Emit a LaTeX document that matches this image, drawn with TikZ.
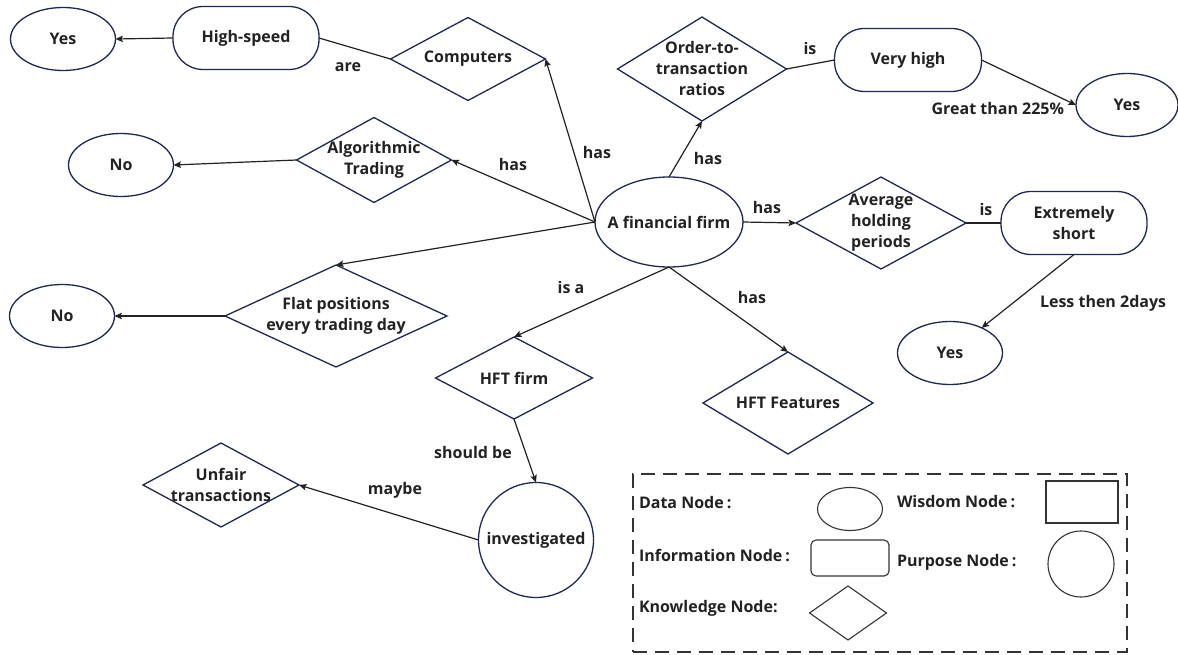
\documentclass[tikz,border=0pt]{standalone}
\usepackage{fontspec}
\setmainfont{Open Sans}
\usetikzlibrary{shapes.geometric,arrows.meta}
\definecolor{navy}{HTML}{1F2855}
\definecolor{ink}{HTML}{222222}
\definecolor{legc}{HTML}{333333}
\begin{document}
\begin{tikzpicture}[x=1pt,y=-1pt,
  base/.style={draw=navy, line width=1.3pt, inner sep=0pt, outer sep=0pt},
  txt/.style={font=\fontsize{16}{21}\selectfont\bfseries, text=ink, align=center, inner sep=0pt, outer sep=0pt},
  dnode/.style={base, ellipse},
  inode/.style={base, rectangle, rounded corners=30pt},
  knode/.style={base, diamond},
  pnode/.style={base, circle},
  arr/.style={draw=ink, line width=1.2pt, -{Stealth[length=7.5pt,width=6.5pt,inset=1.5pt]}},
  ln/.style={draw=ink, line width=1.2pt},
  legshape/.style={draw=legc, line width=1.1pt, inner sep=0pt, outer sep=0pt},
  legtxt/.style={txt, anchor=west},
]
\useasboundingbox (0,0) rectangle (1178,655);

% nodes
\node[dnode, minimum width=105pt, minimum height=63pt, label={[txt]center:Yes}] (yes1) at (63,39) {};
\node[inode, minimum width=146pt, minimum height=63pt, label={[txt]center:High-speed}] (hs) at (246,38) {};
\node[knode, minimum width=155pt, minimum height=83pt, label={[txt]center:Computers}] (comp) at (468,59) {};
\node[dnode, minimum width=105pt, minimum height=63pt, label={[txt]center:No}] (no1) at (121,165) {};
\node[knode, minimum width=155pt, minimum height=85pt, label={[txt]center:{Algorithmic\\Trading}}] (algo) at (374,160) {};
\node[dnode, minimum width=148pt, minimum height=90pt, label={[txt]center:A financial firm}] (firm) at (669,222) {};
\node[knode, minimum width=169pt, minimum height=104pt, label={[txt]center:{Order-to-\\transaction\\ratios}}] (order) at (702,69) {};
\node[inode, minimum width=147pt, minimum height=63pt, label={[txt]center:Very high}] (vh) at (908,60) {};
\node[dnode, minimum width=102pt, minimum height=63pt, label={[txt]center:Yes}] (yes2) at (1127,105) {};
\node[knode, minimum width=170pt, minimum height=92pt, label={[txt]center:{Average\\holding\\periods}}] (avg) at (881,223) {};
\node[inode, minimum width=146pt, minimum height=63pt, label={[txt]center:{Extremely\\short}}] (ext) at (1074,223) {};
\node[dnode, minimum width=105pt, minimum height=63pt, label={[txt]center:Yes}] (yes3) at (950,353) {};
\node[knode, minimum width=170pt, minimum height=102pt, label={[txt]center:HFT Features}] (feat) at (788,403) {};
\node[knode, minimum width=222pt, minimum height=102pt, label={[txt]center:{Flat positions\\every trading day}}] (flat) at (336,316) {};
\node[dnode, minimum width=105pt, minimum height=63pt, label={[txt]center:No}] (no2) at (62,316) {};
\node[knode, minimum width=157pt, minimum height=82pt, label={[txt]center:HFT firm}] (hft) at (514,378) {};
\node[pnode, minimum size=115pt, label={[txt]center:investigated}] (inv) at (536,540) {};
\node[knode, minimum width=156pt, minimum height=84pt, label={[txt]center:{Unfair\\transactions}}] (unfair) at (221,485) {};

% connectors
\draw[arr] (hs.west) -- (yes1.east);
\draw[ln] (hs.east) -- (comp.west);
\draw[arr] (algo.west) -- (no1.east);
\draw[arr] (firm.west) -- (comp.east);
\draw[arr] (firm.west) -- (algo.east);
\draw[arr] (firm.west) -- (flat.north);
\draw[arr] (firm.north) -- (order.south);
\draw[ln] (order.east) -- (vh.west);
\draw[arr] (vh.east) -- (yes2.west);
\draw[arr] (firm.east) -- (avg.west);
\draw[ln] (avg.east) -- (ext.west);
\draw[arr] (ext.south) -- (yes3);
\draw[arr] (firm.south) -- (feat.north);
\draw[arr] (firm.south) -- (hft.north);
\draw[arr] (hft.south) -- (inv.north);
\draw[arr] (inv.west) -- (unfair.east);
\draw[arr] (flat.west) -- (no2.east);

% connector labels
\node[txt] (l1) at (348,67) {are};
\node[txt] (l2) at (597,153) {has};
\node[txt] (l3) at (513,165) {has};
\node[txt] (l4) at (708,159) {has};
\node[txt] (l5) at (810,49) {is};
\node[txt, anchor=east] (l6) at (1064,109) {Great than 225\%};
\node[txt] (l7) at (767,208) {has};
\node[txt] (l8) at (986,210) {is};
\node[txt, anchor=west] (l9) at (1040,303) {Less then 2days};
\node[txt] (l10) at (752,297) {has};
\node[txt] (l11) at (571,287) {is a};
\node[txt] (l12) at (473,452) {should be};
\node[txt] (l13) at (395,490) {maybe};

% legend
\node[draw=legc, line width=1.3pt, dash pattern=on 14pt off 8pt, minimum width=494pt, minimum height=178pt, inner sep=0pt] (legend) at (880,563) {};
\node[legtxt] (ld) at (639,503) {Data Node\kern3pt:};
\node[legtxt] (li) at (639,555) {Information Node\kern3pt:};
\node[legtxt] (lk) at (639,608) {Knowledge Node:};
\node[legtxt] (lw) at (897,502) {Wisdom Node\kern3pt:};
\node[legtxt] (lp) at (897,562) {Purpose Node\kern3pt:};
\node[legshape, ellipse, minimum width=65pt, minimum height=43pt] (sd) at (850,509) {};
\node[legshape, rectangle, rounded corners=5pt, minimum width=78pt, minimum height=36pt] (si) at (850,558) {};
\node[legshape, diamond, minimum width=77pt, minimum height=54pt] (sk) at (848,613) {};
\node[legshape, rectangle, minimum width=72pt, minimum height=42pt] (sw) at (1082,502) {};
\node[legshape, ellipse, minimum width=66pt, minimum height=66pt] (sp) at (1081,564) {};
\end{tikzpicture}
\end{document}
